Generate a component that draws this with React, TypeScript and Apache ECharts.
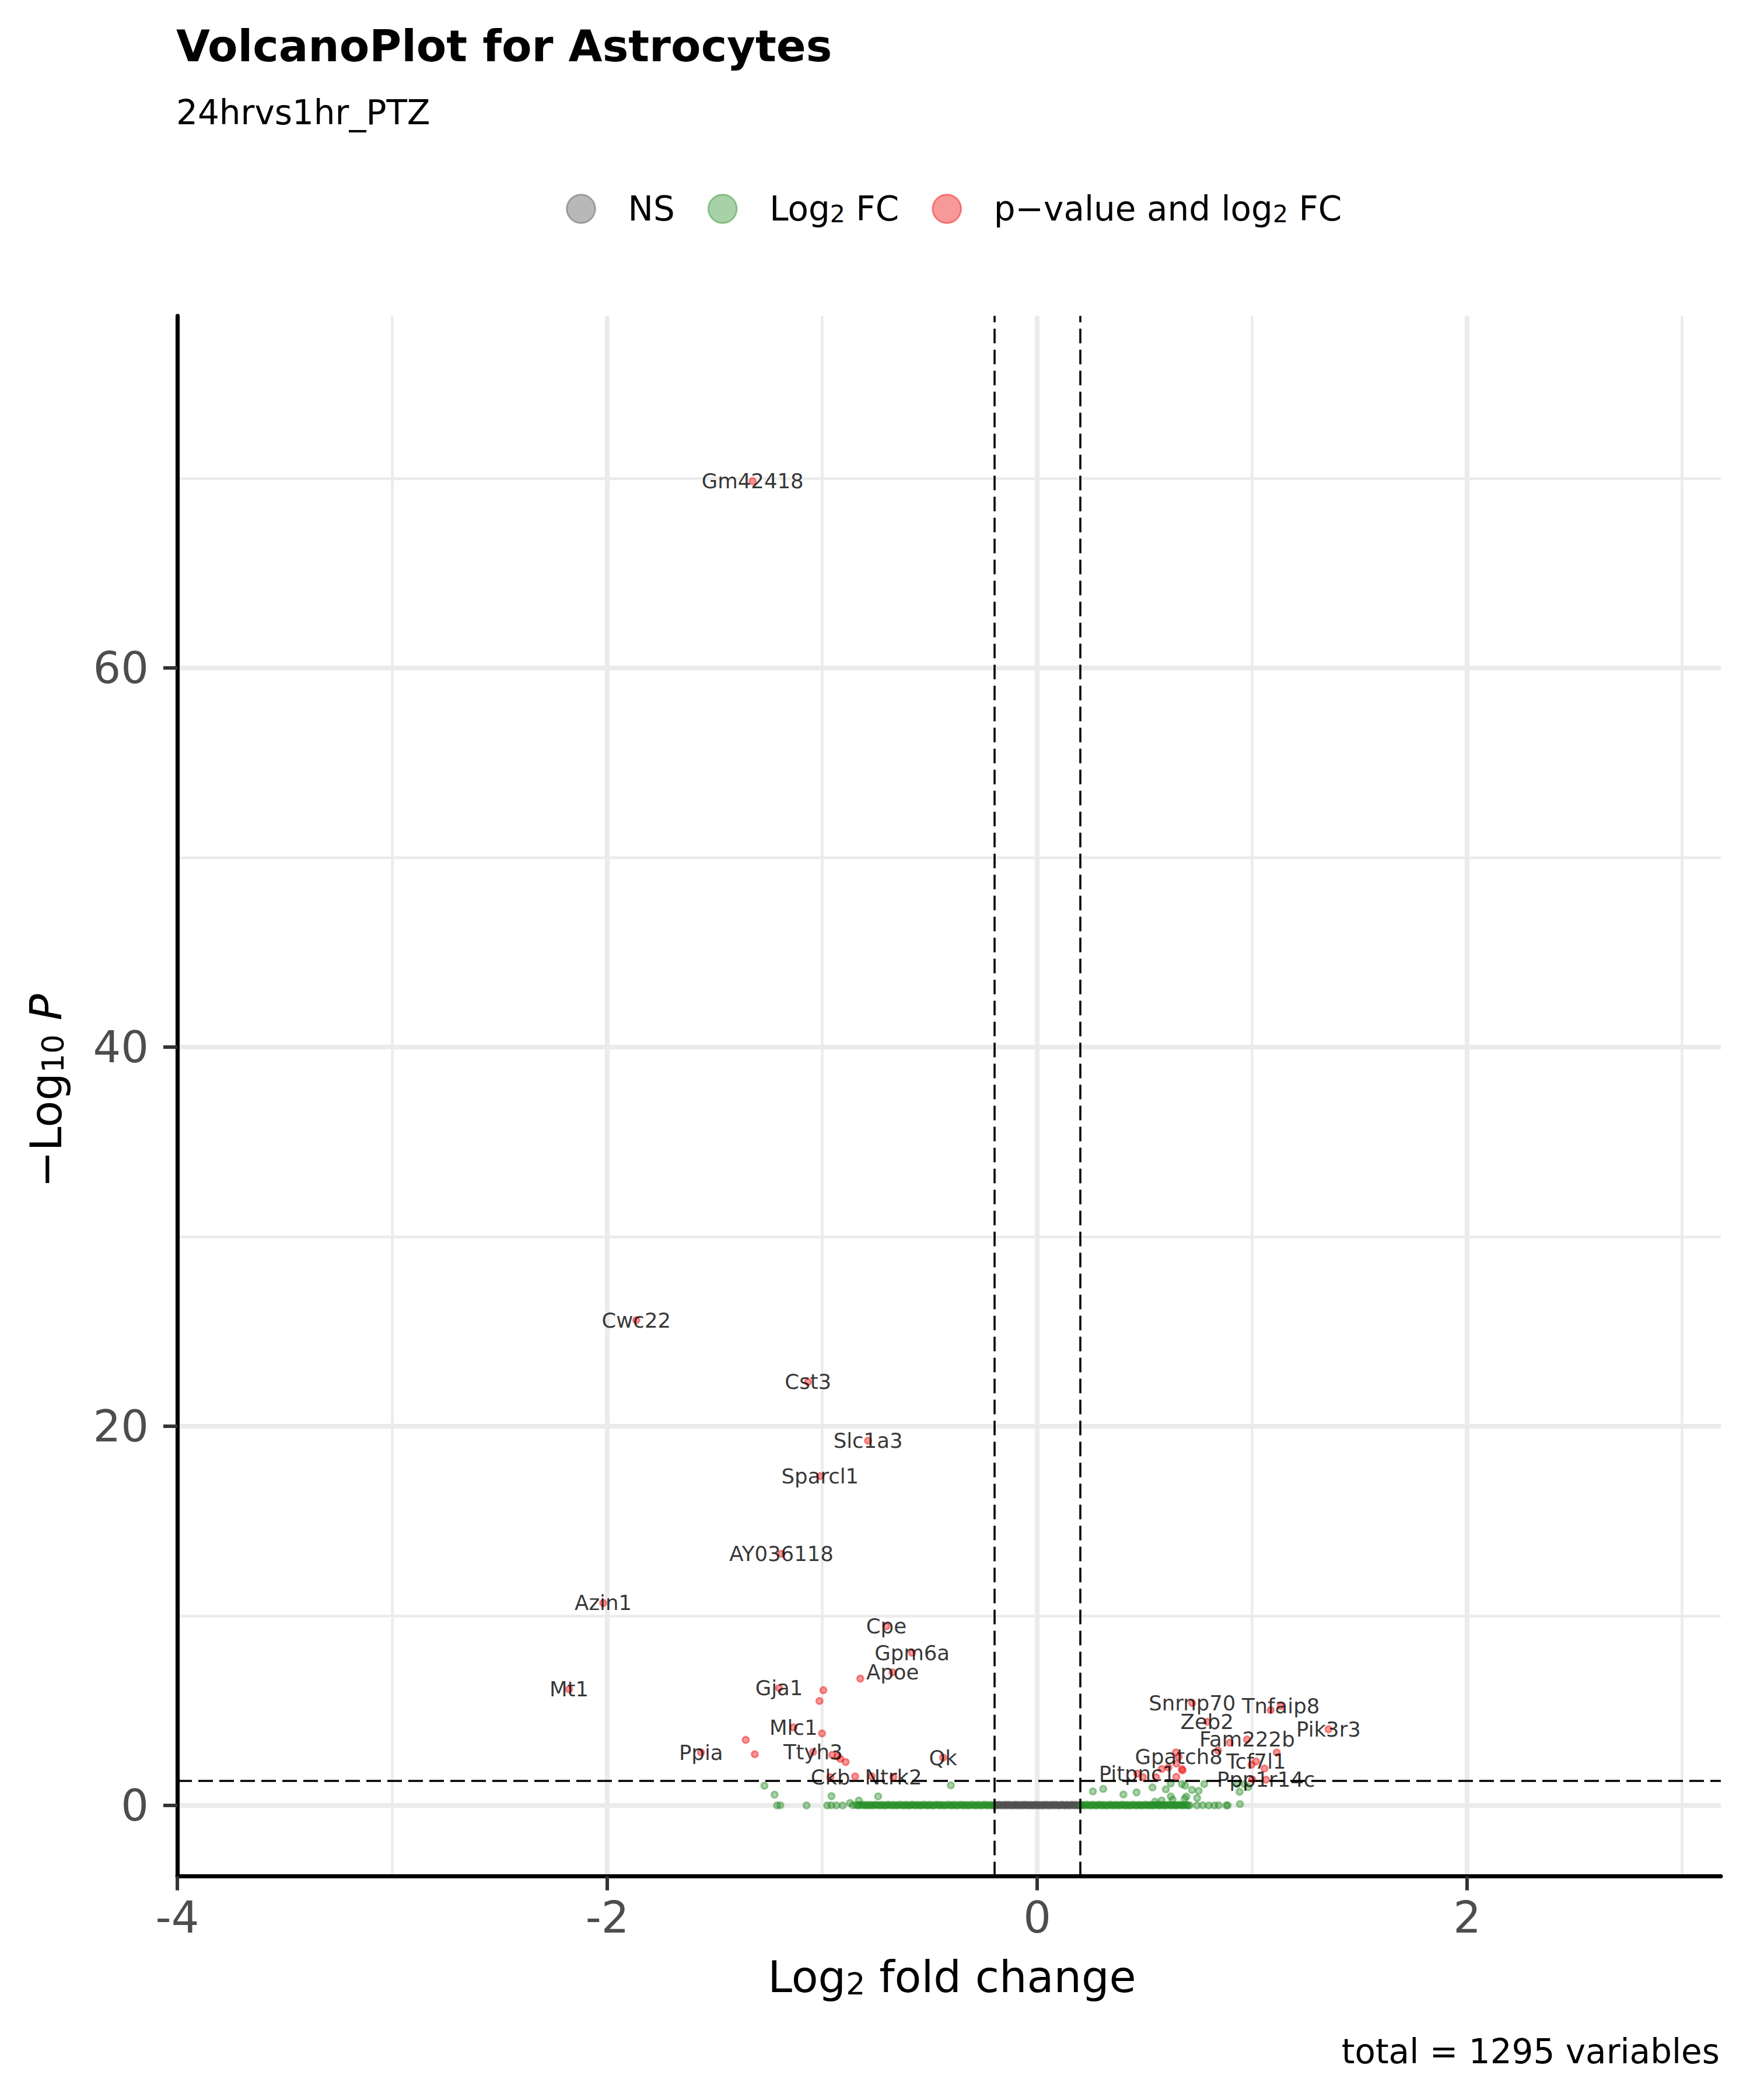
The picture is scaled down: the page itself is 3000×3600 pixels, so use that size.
import React, { useEffect, useRef } from 'react';
import * as echarts from 'echarts';

const FONT = '"DejaVu Sans", "Noto Sans", sans-serif';

const titleText = 'VolcanoPlot for Astrocytes';
const subtitleText = '24hrvs1hr_PTZ';
const captionText = 'total = 1295 variables';

const xTicks = [-4, -2, 0, 2];
const yTicks = [0, 20, 40, 60];
const xMinorGrid = [-3, -1, 1, 3];
const yMinorGrid = [10, 30, 50, 70];
const fcCutoff = 0.2;
const pCutoffLog = 1.30103;
const xRange = [-4, 3.18];
const yRange = [-3.74, 78.57];

// labelled significant genes (log2 FC, -log10 P)
const labeledGenes = ['Gm42418', 'Cwc22', 'Cst3', 'Slc1a3', 'Sparcl1', 'AY036118', 'Azin1', 'Cpe', 'Gpm6a', 'Apoe', 'Mt1', 'Gja1', 'Mlc1', 'Ppia', 'Ttyh3', 'Qk', 'Ckb', 'Ntrk2', 'Snrnp70', 'Tnfaip8', 'Zeb2', 'Pik3r3', 'Fam222b', 'Gpatch8', 'Tcf7l1', 'Pitpnc1', 'Ppp1r14c'];
const labeledFC = [-1.324, -1.865, -1.066, -0.787, -1.010, -1.190, -2.019, -0.702, -0.582, -0.673, -2.178, -1.201, -1.134, -1.564, -1.043, -0.438, -0.962, -0.669, 0.721, 1.133, 0.790, 1.355, 0.976, 0.658, 1.018, 0.465, 1.064];
const labeledLogP = [69.85, 25.6, 22.34, 19.24, 17.37, 13.27, 10.68, 9.45, 8.05, 7.02, 6.13, 6.19, 4.12, 2.8, 2.82, 2.52, 1.49, 1.5, 5.4, 5.24, 4.41, 4.02, 3.48, 2.56, 2.32, 1.68, 1.36];

// unlabelled significant genes
const sigOther: [number, number][] = [
  [-0.823, 6.69], [-0.995, 6.08], [-1.013, 5.51], [-1.001, 3.8], [-1.356, 3.46], [-1.314, 2.7],
  [-0.954, 2.67], [-0.929, 2.59], [-0.916, 2.46], [-0.891, 2.29], [-0.847, 1.53], [-0.77, 1.54],
  [1.086, 5.03], [0.896, 3.31], [0.841, 2.9], [1.114, 2.79], [0.645, 2.8], [0.647, 2.21],
  [0.673, 1.92], [0.676, 1.85], [0.61, 2.0], [0.579, 1.92], [0.997, 2.15], [1.057, 1.95],
  [0.491, 1.49], [0.553, 1.49], [0.647, 1.51], [1.0, 1.38],
];

// log2 FC only genes off the baseline
const fcOffBase: [number, number][] = [
  [-1.269, 1.04], [-1.222, 0.57], [-0.957, 0.49], [-0.871, 0.13], [-0.83, 0.26], [-0.74, 0.48], [-0.402, 1.06],
  [-1.21, 0.0], [-1.195, 0.01], [-1.073, 0.0], [-0.977, 0.0], [-0.958, 0.01], [-0.934, 0.0], [-0.905, 0.0], [-0.858, 0.01],
  [0.259, 0.74], [0.307, 0.87], [0.401, 0.58], [0.462, 0.69], [0.536, 0.95], [0.598, 0.85], [0.621, 1.16],
  [0.621, 0.48], [0.673, 1.13], [0.688, 1.05], [0.694, 0.47], [0.686, 0.36], [0.72, 0.82], [0.751, 0.77],
  [0.744, 0.39], [0.777, 1.13], [0.63, 0.31], [0.579, 0.26], [0.548, 0.2], [0.93, 1.13], [0.964, 1.13],
  [0.941, 0.72], [0.982, 0.97], [0.943, 0.07],
  [0.743, 0.0], [0.77, 0.01], [0.798, 0.0], [0.824, 0.0], [0.844, 0.01], [0.88, 0.0], [0.886, 0.01],
];

// dense band of log2 FC only genes near -log10 P = 0
const fcBand: [number, number][] = [
  [-0.842, 0.02], [-0.833, 0.0], [-0.826, 0.03], [-0.815, 0.01], [-0.808, 0.04], [-0.799, 0.0], [-0.791, 0.02], [-0.782, 0.01],
  [-0.776, 0.03], [-0.766, 0.0], [-0.759, 0.02], [-0.75, 0.04], [-0.743, 0.01], [-0.733, 0.0], [-0.727, 0.03], [-0.718, 0.02],
  [-0.71, 0.0], [-0.701, 0.01], [-0.695, 0.04], [-0.686, 0.02], [-0.677, 0.0], [-0.67, 0.03], [-0.661, 0.01], [-0.653, 0.0],
  [-0.646, 0.02], [-0.637, 0.04], [-0.629, 0.01], [-0.621, 0.0], [-0.613, 0.03], [-0.605, 0.02], [-0.597, 0.0], [-0.589, 0.01],
  [-0.582, 0.04], [-0.573, 0.02], [-0.565, 0.0], [-0.557, 0.03], [-0.549, 0.01], [-0.541, 0.0], [-0.534, 0.02], [-0.525, 0.04],
  [-0.517, 0.01], [-0.509, 0.0], [-0.502, 0.03], [-0.493, 0.02], [-0.485, 0.0], [-0.478, 0.01], [-0.469, 0.04], [-0.461, 0.02],
  [-0.453, 0.0], [-0.446, 0.03], [-0.437, 0.01], [-0.43, 0.0], [-0.421, 0.02], [-0.413, 0.04], [-0.405, 0.01], [-0.397, 0.0],
  [-0.39, 0.03], [-0.381, 0.02], [-0.374, 0.0], [-0.365, 0.01], [-0.357, 0.04], [-0.349, 0.02], [-0.342, 0.0], [-0.333, 0.03],
  [-0.326, 0.01], [-0.317, 0.0], [-0.31, 0.02], [-0.301, 0.04], [-0.294, 0.01], [-0.285, 0.0], [-0.278, 0.03], [-0.269, 0.02],
  [-0.262, 0.0], [-0.253, 0.01], [-0.246, 0.04], [-0.237, 0.02], [-0.23, 0.0], [-0.221, 0.03], [-0.214, 0.01], [-0.206, 0.0],
  [0.203, 0.01], [0.21, 0.03], [0.218, 0.0], [0.226, 0.02], [0.233, 0.04], [0.241, 0.01], [0.249, 0.0], [0.256, 0.03],
  [0.264, 0.02], [0.272, 0.0], [0.279, 0.01], [0.287, 0.04], [0.295, 0.02], [0.302, 0.0], [0.31, 0.03], [0.318, 0.01],
  [0.325, 0.0], [0.333, 0.02], [0.341, 0.04], [0.348, 0.01], [0.356, 0.0], [0.364, 0.03], [0.371, 0.02], [0.379, 0.0],
  [0.387, 0.01], [0.394, 0.04], [0.402, 0.02], [0.41, 0.0], [0.417, 0.03], [0.425, 0.01], [0.433, 0.0], [0.44, 0.02],
  [0.448, 0.04], [0.456, 0.01], [0.463, 0.0], [0.471, 0.03], [0.479, 0.02], [0.486, 0.0], [0.494, 0.01], [0.502, 0.04],
  [0.509, 0.02], [0.517, 0.0], [0.525, 0.03], [0.532, 0.01], [0.54, 0.0], [0.548, 0.02], [0.555, 0.04], [0.563, 0.01],
  [0.571, 0.0], [0.578, 0.03], [0.586, 0.02], [0.594, 0.0], [0.601, 0.01], [0.609, 0.04], [0.617, 0.02], [0.624, 0.0],
  [0.632, 0.03], [0.64, 0.01], [0.647, 0.0], [0.655, 0.02], [0.663, 0.04], [0.67, 0.01], [0.678, 0.0], [0.686, 0.03],
  [0.694, 0.02], [0.701, 0.0], [0.709, 0.01],
];

// non-significant genes
const nsBand: [number, number][] = [
  [-0.199, 0.01], [-0.193, 0.03], [-0.186, 0.0], [-0.181, 0.02], [-0.174, 0.04], [-0.168, 0.01], [-0.161, 0.0], [-0.155, 0.03],
  [-0.149, 0.02], [-0.142, 0.0], [-0.137, 0.04], [-0.13, 0.01], [-0.124, 0.02], [-0.117, 0.0], [-0.111, 0.03], [-0.104, 0.01],
  [-0.098, 0.04], [-0.093, 0.0], [-0.086, 0.02], [-0.08, 0.01], [-0.073, 0.03], [-0.067, 0.0], [-0.061, 0.02], [-0.054, 0.04],
  [-0.049, 0.01], [-0.042, 0.0], [-0.036, 0.03], [-0.029, 0.02], [-0.023, 0.0], [-0.017, 0.01], [-0.011, 0.04], [-0.004, 0.02],
  [0.002, 0.0], [0.008, 0.03], [0.015, 0.01], [0.021, 0.02], [0.027, 0.0], [0.034, 0.04], [0.04, 0.01], [0.046, 0.03],
  [0.053, 0.0], [0.059, 0.02], [0.065, 0.01], [0.072, 0.04], [0.078, 0.0], [0.084, 0.02], [0.091, 0.03], [0.097, 0.01],
  [0.103, 0.0], [0.11, 0.02], [0.116, 0.04], [0.122, 0.01], [0.129, 0.0], [0.135, 0.03], [0.141, 0.02], [0.148, 0.0],
  [0.154, 0.01], [0.16, 0.04], [0.167, 0.02], [0.173, 0.0], [0.179, 0.03], [0.186, 0.01], [0.192, 0.02], [0.198, 0.0],
];

const legendNames = ['NS', 'Log2 FC', 'p-value and log2 FC'];
const legendLabels: Record<string, string> = {
  'NS': '{sp| }{t|NS}',
  'Log2 FC': '{sp| }{t|Log}{s|2}{t| FC}',
  'p-value and log2 FC': '{sp| }{t|p\u2212value and log}{s|2}{t| FC}',
};

const colNS = 'rgba(77,77,77,0.5)';
const colFC = 'rgba(34,139,34,0.5)';
const colSig = 'rgba(238,0,0,0.5)';

function pointStyle(c: string) {
  return { color: c, borderColor: c, borderWidth: 3 };
}

export default function App() {
  const ref = useRef<HTMLDivElement>(null);

  useEffect(() => {
    if (!ref.current) return;
    const chart = echarts.init(ref.current, undefined, { renderer: 'svg' });

    const sigData: any[] = labeledGenes.map((g, i) => ({
      name: g,
      value: [labeledFC[i], labeledLogP[i]],
      label: { show: true },
    }));
    sigOther.forEach((p) => sigData.push({ value: p, label: { show: false } }));

    const gridMarks: any[] = [];
    xTicks.forEach((v) => gridMarks.push({ xAxis: v, lineStyle: { color: '#EBEBEB', width: 8, type: 'solid' } }));
    xMinorGrid.forEach((v) => gridMarks.push({ xAxis: v, lineStyle: { color: '#EBEBEB', width: 4.5, type: 'solid' } }));
    yTicks.forEach((v) => gridMarks.push({ yAxis: v, lineStyle: { color: '#EBEBEB', width: 8, type: 'solid' } }));
    yMinorGrid.forEach((v) => gridMarks.push({ yAxis: v, lineStyle: { color: '#EBEBEB', width: 4.5, type: 'solid' } }));

    const dash = { color: '#000', width: 3.6, type: [25, 11] as any };

    chart.setOption({
      animation: false,
      backgroundColor: '#fff',
      title: [
        { text: titleText, left: 302, top: 41, padding: 0, textStyle: { fontFamily: FONT, fontSize: 75, lineHeight: 75, fontWeight: 'bold', color: '#000' } },
        { text: subtitleText, left: 302, top: 164, padding: 0, textStyle: { fontFamily: FONT, fontSize: 58, lineHeight: 58, fontWeight: 'normal', color: '#000' } },
      ],
      legend: {
        data: legendNames,
        left: 970,
        top: 329,
        padding: 0,
        itemWidth: 49,
        itemHeight: 49,
        itemGap: 56,
        icon: 'circle',
        itemStyle: { borderWidth: 3 },
        formatter: (n: string) => legendLabels[n] || n,
        textStyle: {
          fontFamily: FONT,
          fontSize: 58,
          color: '#000',
          rich: {
            sp: { width: 51, fontSize: 58, lineHeight: 58 },
            t: { fontFamily: FONT, fontSize: 58, lineHeight: 58, color: '#000' },
            s: { fontFamily: FONT, fontSize: 41, lineHeight: 26, verticalAlign: 'bottom', color: '#000' },
          },
        },
      },
      grid: { left: 304, right: 50, top: 541.5, bottom: 383.4, containLabel: false },
      xAxis: {
        type: 'value',
        min: xRange[0],
        max: xRange[1],
        z: 4,
        axisLine: { show: true, onZero: false, lineStyle: { color: '#000', width: 7 } },
        axisTick: { show: true, length: 24, customValues: xTicks, lineStyle: { color: '#333333', width: 6 } },
        axisLabel: { show: true, customValues: xTicks, margin: 33, fontFamily: FONT, fontSize: 75, color: '#4D4D4D', formatter: (v: number) => String(v) },
        splitLine: { show: false },
      },
      yAxis: {
        type: 'value',
        min: yRange[0],
        max: yRange[1],
        z: 4,
        axisLine: { show: true, onZero: false, lineStyle: { color: '#000', width: 7 } },
        axisTick: { show: true, length: 24, customValues: yTicks, lineStyle: { color: '#333333', width: 6 } },
        axisLabel: { show: true, customValues: yTicks, margin: 49, fontFamily: FONT, fontSize: 75, color: '#4D4D4D', formatter: (v: number) => String(v) },
        splitLine: { show: false },
      },
      graphic: [
        {
          type: 'text',
          x: 1632,
          y: 3389,
          style: {
            text: '{m|Log}{s|2}{m| fold change}',
            align: 'center',
            verticalAlign: 'middle',
            fill: '#000',
            font: `75px ${FONT}`,
            rich: {
              m: { fontFamily: FONT, fontSize: 75, lineHeight: 75, fill: '#000' },
              s: { fontFamily: FONT, fontSize: 52, lineHeight: 29, verticalAlign: 'bottom', fill: '#000' },
            },
          },
        },
        {
          type: 'text',
          x: 79,
          y: 1870,
          rotation: Math.PI / 2,
          style: {
            text: '{m|\u2212Log}{s|10}{m| }{i|P}',
            align: 'center',
            verticalAlign: 'middle',
            fill: '#000',
            font: `75px ${FONT}`,
            rich: {
              m: { fontFamily: FONT, fontSize: 75, lineHeight: 75, fill: '#000' },
              s: { fontFamily: FONT, fontSize: 52, lineHeight: 29, verticalAlign: 'bottom', fill: '#000' },
              i: { fontFamily: FONT, fontSize: 75, lineHeight: 75, fontStyle: 'italic', fill: '#000' },
            },
          },
        },
        {
          type: 'text',
          x: 2948,
          y: 3517,
          style: {
            text: captionText,
            align: 'right',
            verticalAlign: 'middle',
            fill: '#000',
            font: `58px ${FONT}`,
          },
        },
      ],
      series: [
        {
          name: 'NS',
          type: 'scatter',
          z: 2,
          symbol: 'circle',
          symbolSize: 11,
          itemStyle: pointStyle(colNS),
          data: nsBand,
          silent: true,
          markLine: {
            z: 1,
            silent: true,
            symbol: ['none', 'none'],
            label: { show: false },
            animation: false,
            data: gridMarks,
          },
        },
        {
          name: 'Log2 FC',
          type: 'scatter',
          z: 2,
          symbol: 'circle',
          symbolSize: 11,
          itemStyle: pointStyle(colFC),
          data: [...fcBand, ...fcOffBase],
          silent: true,
          markLine: {
            z: 2.5,
            silent: true,
            symbol: ['none', 'none'],
            label: { show: false },
            animation: false,
            lineStyle: dash,
            data: [
              { xAxis: -fcCutoff, lineStyle: dash },
              { xAxis: fcCutoff, lineStyle: dash },
              { yAxis: pCutoffLog, lineStyle: dash },
            ],
          },
        },
        {
          name: 'p-value and log2 FC',
          type: 'scatter',
          z: 3,
          symbol: 'circle',
          symbolSize: 11,
          itemStyle: pointStyle(colSig),
          data: sigData,
          silent: true,
          label: {
            show: false,
            position: 'inside',
            formatter: '{b}',
            color: '#000',
            fontFamily: FONT,
            fontSize: 35.5,
          },
        },
      ],
    });

    return () => chart.dispose();
  }, []);

  return <div ref={ref} style={{ position: 'absolute', left: 0, top: 0, width: 3000, height: 3600 }} />;
}
